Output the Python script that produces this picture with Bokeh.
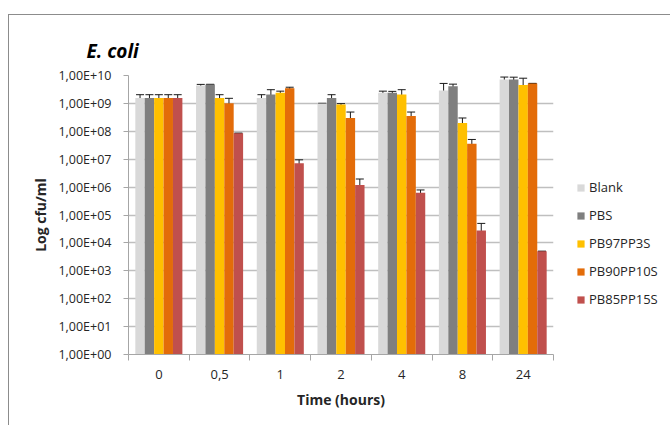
import numpy as np
from bokeh.plotting import figure
from bokeh.models import (ColumnDataSource, Whisker, TeeHead, FixedTicker, Legend,
                          LegendItem, Title, Range1d)
from bokeh.embed import file_html
from bokeh.resources import INLINE

# ---- data ----
times = ["0", "0,5", "1", "2", "4", "8", "24"]
series_names = ["Blank", "PBS", "PB97PP3S", "PB90PP10S", "PB85PP15S"]
colors = ["#d9d9d9", "#7f7f7f", "#ffc000", "#e36c09", "#c0504d"]

blank = [1.55e9, 4.4e9, 1.55e9, 1.0e9, 2.4e9, 2.9e9, 7.2e9]
blank_err = [0.5e9, 0.4e9, 0.5e9, 0.0, 0.35e9, 2.3e9, 1.6e9]
pbs = [1.55e9, 4.8e9, 2.1e9, 1.55e9, 2.4e9, 4.1e9, 7.2e9]
pbs_err = [0.5e9, 0.0, 1.0e9, 0.5e9, 0.3e9, 0.8e9, 1.5e9]
pb97 = [1.55e9, 1.55e9, 2.4e9, 9.1e8, 2.1e9, 2.0e8, 4.6e9]
pb97_err = [0.5e9, 0.5e9, 0.35e9, 0.7e8, 1.0e9, 1.0e8, 3.4e9]
pb90 = [1.55e9, 1.02e9, 3.5e9, 3.0e8, 3.5e8, 3.6e7, 5.2e9]
pb90_err = [0.5e9, 0.5e9, 0.3e9, 1.9e8, 1.4e8, 1.5e7, 0.0]
pb85 = [1.55e9, 8.5e7, 7.2e6, 1.2e6, 6.3e5, 2.8e4, 5.0e3]
pb85_err = [0.5e9, 0.0, 2.3e6, 0.75e6, 1.6e5, 2.2e4, 0.0]

y_ticks = [10.0 ** k for k in range(0, 11)]
y_tick_labels = ["1,00E+00", "1,00E+01", "1,00E+02", "1,00E+03", "1,00E+04", "1,00E+05",
                 "1,00E+06", "1,00E+07", "1,00E+08", "1,00E+09", "1,00E+10"]

values = [blank, pbs, pb97, pb90, pb85]
errors = [blank_err, pbs_err, pb97_err, pb90_err, pb85_err]

FONT = "Open Sans"
TXT = "#262626"

p = figure(frame_width=425, frame_height=279, y_axis_type="log",
           x_range=Range1d(0, len(times)), y_range=Range1d(1, 1e10),
           output_backend="svg", toolbar_location=None,
           min_border_left=119, min_border_right=116, min_border_top=60, min_border_bottom=71)
p.styles = {"margin-top": "14px", "margin-left": "8px",
            "border-left": "1px solid #8c8c8c", "border-top": "1px solid #8c8c8c"}
p.outline_line_color = None

bar_w = 0.155
offsets = [-2 * bar_w, -bar_w, 0.0, bar_w, 2 * bar_w]
centers = np.arange(len(times)) + 0.5

items = []
for name, col, vals, errs, off in zip(series_names, colors, values, errors, offsets):
    v = np.array(vals)
    e = np.array(errs)
    src = ColumnDataSource(dict(x=centers + off, top=v, upper=v + e, lower=v - e))
    r = p.vbar(x="x", top="top", bottom=1, width=bar_w, source=src, fill_color=col, line_color=None)
    items.append(LegendItem(label=name, renderers=[r]))
    w = Whisker(source=src, base="x", upper="upper", lower="lower", line_color="#1a1a1a", line_width=1,
                upper_head=TeeHead(size=8, line_color="#1a1a1a", line_width=1),
                lower_head=TeeHead(size=8, line_color="#1a1a1a", line_width=1))
    p.add_layout(w)

# x axis
xax = p.xaxis[0]
xax.ticker = FixedTicker(ticks=list(centers), minor_ticks=list(range(len(times) + 1)))
xax.major_label_overrides = {float(c): t for c, t in zip(centers, times)}
xax.major_tick_out = 0
xax.major_tick_in = 0
xax.minor_tick_out = 6
xax.minor_tick_in = 0
xax.minor_tick_line_color = "#a6a6a6"
xax.axis_line_color = "#a6a6a6"
xax.major_label_text_font = FONT
xax.major_label_text_font_size = "13px"
xax.major_label_text_color = TXT
xax.major_label_standoff = 9
xax.axis_label = "Time (hours)"
xax.axis_label_text_font = FONT
xax.axis_label_text_font_size = "14px"
xax.axis_label_text_font_style = "bold"
xax.axis_label_text_color = TXT
xax.axis_label_standoff = 8

# y axis
yax = p.yaxis[0]
yax.ticker = FixedTicker(ticks=y_ticks)
yax.major_label_overrides = {t: l for t, l in zip(y_ticks, y_tick_labels)}
yax.major_tick_out = 5
yax.major_tick_in = 0
yax.minor_tick_line_color = None
yax.major_tick_line_color = "#a6a6a6"
yax.axis_line_color = "#a6a6a6"
yax.major_label_text_font = FONT
yax.major_label_text_font_size = "12.5px"
yax.major_label_text_color = TXT
yax.major_label_standoff = 12
yax.axis_label = "Log cfu/ml"
yax.axis_label_text_font = FONT
yax.axis_label_text_font_size = "14px"
yax.axis_label_text_font_style = "bold"
yax.axis_label_text_color = TXT
yax.axis_label_standoff = 5

p.xgrid.grid_line_color = None
p.ygrid.grid_line_color = "#bfbfbf"
p.ygrid.grid_line_width = 1.5
p.ygrid.ticker = FixedTicker(ticks=y_ticks)

# title
p.title = Title(text="E. coli", align="left", offset=-42, text_font=FONT, text_font_size="19px",
                text_font_style="bold italic", text_color="#000000", standoff=24)

legend = Legend(items=items, location="top_left", glyph_width=9, glyph_height=9,
                label_text_font=FONT, label_text_font_size="13px", label_text_color=TXT,
                label_height=14, spacing=10, padding=0, margin=23, border_line_color=None,
                background_fill_alpha=0, label_standoff=4,
                title=" ", title_text_font_size="13px", title_standoff=65)
p.add_layout(legend, "right")

open("out.html", "w").write(file_html(p, INLINE))
